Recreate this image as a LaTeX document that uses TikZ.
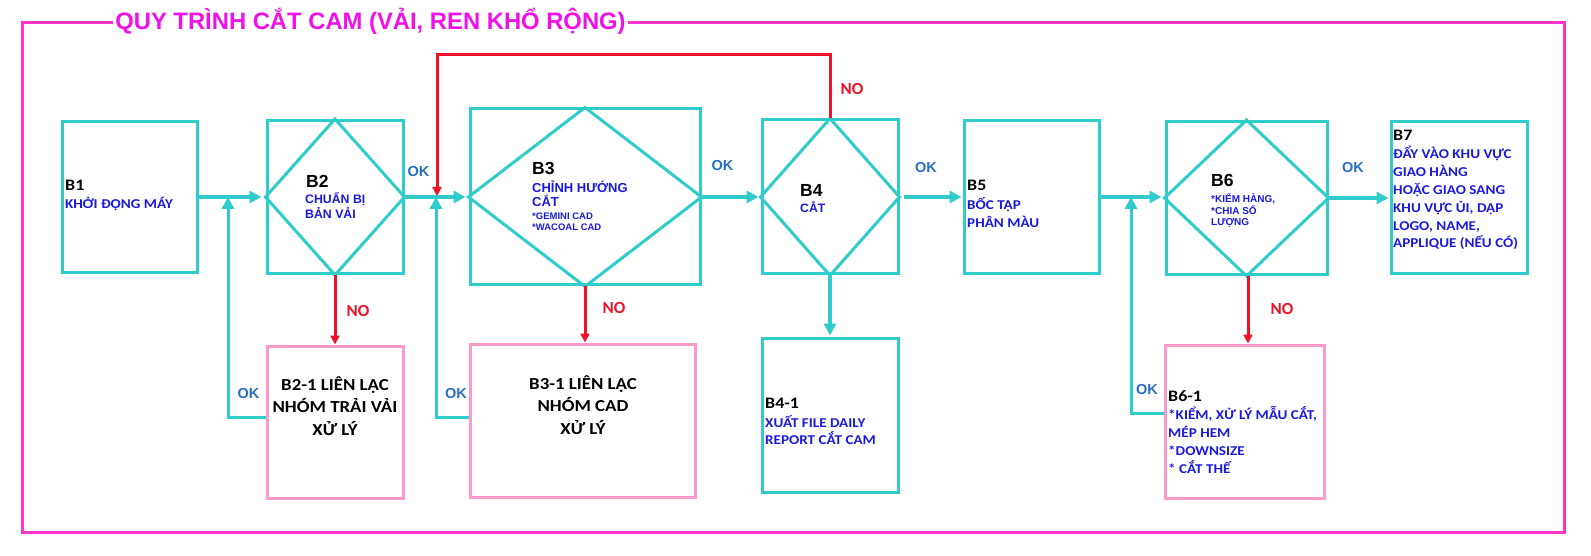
\documentclass[tikz,border=0pt]{standalone}
\usepackage{fontspec}
\usetikzlibrary{arrows.meta,calc}
\setmainfont{Liberation Sans}
\newfontfamily\calf[FakeStretch=1.12]{Carlito}
\newfontfamily\calp{Carlito}
\newfontfamily\arialf{Liberation Sans}
\definecolor{cy}{RGB}{48,204,204}
\definecolor{pk}{RGB}{255,153,204}
\definecolor{fr}{RGB}{255,51,204}
\definecolor{tt}{RGB}{240,16,232}
\definecolor{rd}{RGB}{240,16,40}
\definecolor{bl}{RGB}{25,25,225}
\definecolor{okc}{RGB}{40,110,195}
\newcommand\LL[1]{\hbox{#1}}
\newcommand\CL[1]{\hbox to 0pt{\hss#1\hss}}
\begin{document}
\begin{tikzpicture}[x=1pt,y=-1pt,
  box/.style={draw=cy,line width=3pt,inner sep=0pt},
  pbox/.style={draw=pk,line width=3pt,inner sep=0pt},
  dia/.style={draw=cy,line width=3pt,line join=miter},
  carr/.style={draw=cy,line width=4pt,-{Triangle[length=12pt,width=12pt]}},
  cloop/.style={draw=cy,line width=3pt,-{Triangle[length=12pt,width=12pt]}},
  rarr/.style={draw=rd,line width=3pt,-{Triangle[length=9pt,width=9pt]}},
  lab/.style={inner sep=0pt,anchor=base west},
  clab/.style={inner sep=0pt,anchor=base},
  hd/.style={font=\calf\bfseries\fontsize{16}{16}\selectfont},
  hda/.style={font=\arialf\bfseries\fontsize{17.5}{17.5}\selectfont},
  bt/.style={text=bl,font=\calf\bfseries\fontsize{13.5}{17.8}\selectfont},
  ok/.style={inner sep=0pt,text=okc,font=\arialf\bfseries\fontsize{14.5}{14.5}\selectfont},
  no/.style={inner sep=0pt,text=rd,font=\calp\bfseries\fontsize{17}{17}\selectfont}
]
\useasboundingbox (0,0) rectangle (1591,556);

% frame and title
\coordinate (ftl) at (22,23);
\coordinate (fbr) at (1564,532);
\node[inner sep=2pt,anchor=base,text=tt,font=\arialf\bfseries\fontsize{23.8}{23.8}\selectfont] (title) at (370.5,29.5) {QUY TRÌNH CẮT CAM (VẢI, REN KHỔ RỘNG)};
\draw[draw=fr,line width=3pt] (title.west |- ftl) -- (ftl) |- (fbr) |- (title.east |- ftl);

% boxes
\node[box,minimum width=135pt,minimum height=151pt] (b1) at (129.5,197) {};
\node[box,minimum width=136pt,minimum height=153pt] (b2) at (335,197) {};
\node[box,minimum width=230pt,minimum height=176pt] (b3) at (585,197) {};
\node[box,minimum width=136pt,minimum height=154pt] (b4) at (830,197) {};
\node[box,minimum width=135pt,minimum height=153pt] (b5) at (1031.5,197) {};
\node[box,minimum width=161pt,minimum height=153pt] (b6) at (1246.5,198) {};
\node[box,minimum width=136pt,minimum height=152pt] (b7) at (1459,198) {};
\node[pbox,minimum width=136pt,minimum height=152pt] (b21) at (335,422) {};
\node[pbox,minimum width=225pt,minimum height=153pt] (b31) at (582.5,420.5) {};
\node[box,minimum width=136pt,minimum height=154pt] (b41) at (830,415) {};
\node[pbox,minimum width=159pt,minimum height=153pt] (b61) at (1244.5,421.5) {};

% diamonds
\foreach \n in {b2,b3,b4,b6}{
  \draw[dia] (\n.north) -- (\n.east) -- (\n.south) -- (\n.west) -- cycle;
}

% main flow
\draw[carr,shorten >=4pt] (b1.east) -- (b2.west);
\draw[carr,shorten >=3pt] (b2.east) -- (b3.west);
\draw[carr,shorten >=2pt] (b3.east) -- (b4.west);
\draw[carr,shorten <=4pt,shorten >=1pt] (b4.east) -- (b5.west);
\draw[carr,shorten >=3pt] (b5.east) -- (b5.east -| b6.west);
\draw[carr,shorten >=1pt] (b6.east) -- (b6.east -| b7.west);
\draw[carr,shorten >=1pt] (b4.south) -- (b41.north);

% OK loops
\coordinate (lp1) at (228,417);
\coordinate (lp2) at (436,417);
\coordinate (lp3) at (1131,413);
\draw[cloop] (lp1 -| b21.west) -- (lp1) -- (lp1 |- b1.east);
\draw[cloop] (lp2 -| b31.west) -- (lp2) -- (lp2 |- b2.east);
\draw[cloop] (lp3 -| b61.west) -- (lp3) -- (lp3 |- b5.east);

% NO arrows
\coordinate (rtop) at (437,55);
\draw[rarr,shorten >=1pt] (b4.north) -- (b4.north |- rtop) -- (rtop) -- (rtop |- b2.east);
\draw[rarr] (b2.south) -- (b21.north);
\draw[rarr] (b3.south) -- (b3.south |- b31.north);
\draw[rarr] ([xshift=1.5pt]b6.south) -- ([xshift=1.5pt]b6.south |- b61.north);

% labels OK / NO
\node[ok] (ok1) at (418.5,172) {OK};
\node[ok] (ok2) at (722.5,166) {OK};
\node[ok] (ok3) at (926,168) {OK};
\node[ok] (ok4) at (1353,168) {OK};
\node[ok] (ok5) at (248.5,394) {OK};
\node[ok] (ok6) at (456,394) {OK};
\node[ok] (ok7) at (1147,390) {OK};
\node[no] (no1) at (852,89) {NO};
\node[no] (no2) at (358,311) {NO};
\node[no] (no3) at (614,308) {NO};
\node[no] (no4) at (1282,309) {NO};

% B1
\node[lab,hd] (t1a) at (65,191) {B1};
\node[lab,bt] (t1b) at (65,209) {KHỞI ĐỘNG MÁY};
% B2
\node[lab,hda] (t2a) at (306,188) {B2};
\node[lab,text=bl,font=\arialf\bfseries\fontsize{12.3}{15}\selectfont] (t2b) at (305,204) {\vtop{\LL{CHUẨN BỊ}\LL{BẢN VẢI}}};
% B3
\node[lab,hda] (t3a) at (532,175) {B3};
\node[lab,text=bl,font=\arialf\bfseries\fontsize{13}{14}\selectfont] (t3b) at (532,193) {\vtop{\LL{CHỈNH HƯỚNG}\LL{CẮT}}};
\node[lab,text=bl,font=\arialf\bfseries\fontsize{9.5}{11}\selectfont] (t3c) at (532,220) {\vtop{\LL{*GEMINI CAD}\LL{*WACOAL CAD}}};
% B4
\node[lab,hda] (t4a) at (800,197) {B4};
\node[lab,text=bl,font=\arialf\bfseries\fontsize{12.2}{12.2}\selectfont] (t4b) at (800,213) {CẮT};
% B5
\node[lab,hd] (t5a) at (967,191) {B5};
\node[lab,bt] (t5b) at (967,210) {\vtop{\LL{BỐC TẬP}\LL{PHÂN MÀU}}};
% B6
\node[lab,hda] (t6a) at (1211,187) {B6};
\node[lab,text=bl,font=\arialf\bfseries\fontsize{10}{11.3}\selectfont] (t6b) at (1211,203) {\vtop{\LL{*KIỂM HÀNG,}\LL{*CHIA SỐ}\LL{LƯỢNG}}};
% B7
\node[lab,hd] (t7a) at (1393,141) {B7};
\node[lab,bt] (t7b) at (1393,159) {\vtop{\LL{ĐẨY VÀO KHU VỰC}\LL{GIAO HÀNG}\LL{HOẶC GIAO SANG}\LL{KHU VỰC ỦI, DẬP}\LL{LOGO, NAME,}\LL{APPLIQUE (NẾU CÓ)}}};
% B2-1, B3-1
\node[clab,font=\calf\bfseries\fontsize{16.8}{22.5}\selectfont] (t21) at (335,390) {\vtop{\CL{B2-1 LIÊN LẠC}\CL{NHÓM TRẢI VẢI}\CL{XỬ LÝ}}};
\node[clab,font=\calf\bfseries\fontsize{16.8}{22.5}\selectfont] (t31) at (583,389) {\vtop{\CL{B3-1 LIÊN LẠC}\CL{NHÓM CAD}\CL{XỬ LÝ}}};
% B4-1
\node[lab,hd] (t41a) at (765,408) {B4-1};
\node[lab,bt] (t41b) at (765,427) {\vtop{\LL{XUẤT FILE DAILY}\LL{REPORT CẮT CAM}}};
% B6-1
\node[lab,hd] (t61a) at (1168,401) {B6-1};
\node[lab,bt,font=\calf\bfseries\fontsize{13.5}{18.3}\selectfont] (t61b) at (1168,419) {\vtop{\LL{*KIỂM, XỬ LÝ MẪU CẮT,}\LL{MÉP HEM}\LL{*DOWNSIZE}\LL{* CẮT THẾ}}};
\end{tikzpicture}
\end{document}
